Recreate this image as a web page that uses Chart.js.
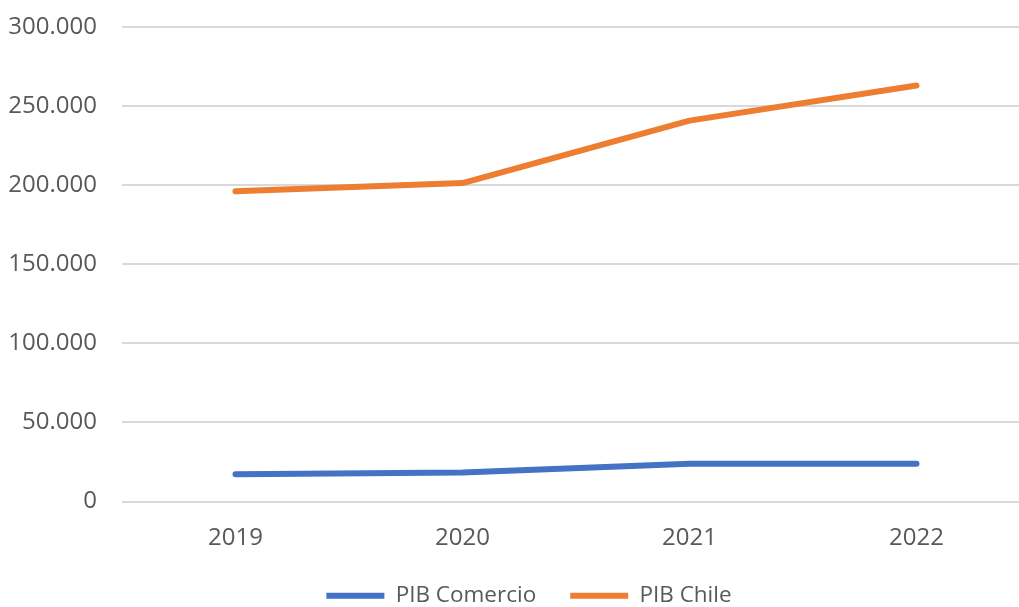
<!DOCTYPE html>
<html>
<head>
<meta charset="utf-8">
<script src="https://cdn.jsdelivr.net/npm/chart.js@4/dist/chart.umd.min.js"></script>
<style>
  html, body { margin: 0; padding: 0; background: #fff; overflow: hidden; }
  .chart-container { position: relative; width: 1058px; height: 607px; }
</style>
</head>
<body>
<div class="chart-container">
  <canvas id="pib"></canvas>
</div>
<script>
const years = ["2019", "2020", "2021", "2022"];
const pibComercio = [17300, 18400, 23900, 23900];
const pibChile = [196100, 201300, 240800, 263000];
const yMin = 0;
const yMax = 300000;
const yStep = 50000;

const textColor = "#595959";
const gridColor = "#d9d9d9";

// thousands with a dot, e.g. 250.000
const fmt = (v) => String(v).replace(/\B(?=(\d{3})+(?!\d))/g, ".");

new Chart(document.getElementById("pib").getContext("2d"), {
    type: "line",
    data: {
        labels: years,
        datasets: [
            {
                label: "PIB Comercio",
                data: pibComercio,
                borderColor: "#4472C4",
                backgroundColor: "#4472C4",
                borderWidth: 6,
                borderCapStyle: "round",
                borderJoinStyle: "round",
                pointRadius: 0,
                tension: 0,
            },
            {
                label: "PIB Chile",
                data: pibChile,
                borderColor: "#ED7D31",
                backgroundColor: "#ED7D31",
                borderWidth: 6,
                borderCapStyle: "round",
                borderJoinStyle: "round",
                pointRadius: 0,
                tension: 0,
            },
        ],
    },
    options: {
        responsive: true,
        maintainAspectRatio: false,
        animation: false,
        layout: {
            padding: { left: 0, right: 0, top: 27, bottom: -10 },
        },
        plugins: {
            legend: {
                display: true,
                position: "bottom",
                labels: {
                    color: textColor,
                    font: { family: "'Open Sans'", size: 22.5 },
                    usePointStyle: true,
                    pointStyle: "line",
                    pointStyleWidth: 58,
                    padding: 34,
                },
            },
            tooltip: { enabled: false },
        },
        scales: {
            x: {
                offset: true,
                grid: { display: false, drawTicks: false },
                border: { display: false },
                ticks: {
                    color: textColor,
                    font: { family: "'Open Sans'", size: 24 },
                    padding: 22,
                },
                afterFit: (scale) => { scale.height = 49; },
            },
            y: {
                min: yMin,
                max: yMax,
                grid: { color: gridColor, lineWidth: 2, drawTicks: false },
                border: { display: false },
                ticks: {
                    stepSize: yStep,
                    color: textColor,
                    font: { family: "'Open Sans'", size: 24 },
                    padding: 25,
                    callback: (v) => fmt(v),
                },
                afterFit: (scale) => {
                    scale.width = 122;
                    scale.paddingTop = 0;
                    scale.paddingBottom = 0;
                },
            },
            // empty margin on the right so the legend stays centred on the canvas
            yRight: {
                position: "right",
                min: yMin,
                max: yMax,
                grid: { display: false, drawTicks: false },
                border: { display: false },
                ticks: { display: false },
                afterFit: (scale) => {
                    scale.width = 28;
                    scale.paddingTop = 0;
                    scale.paddingBottom = 0;
                },
            },
        },
    },
});
</script>
</body>
</html>
